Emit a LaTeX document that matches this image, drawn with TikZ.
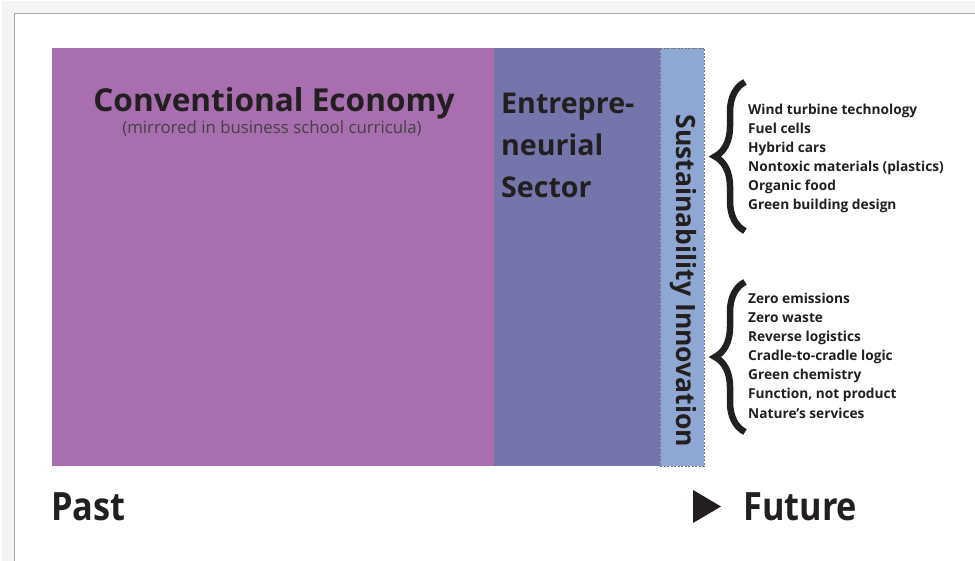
\documentclass[tikz,border=0pt]{standalone}
\usepackage{fontspec}
\setmainfont{Open Sans}
\usetikzlibrary{decorations.pathreplacing}
\definecolor{convc}{HTML}{A86EAF}
\definecolor{entc}{HTML}{7475AB}
\definecolor{susc}{HTML}{8FA7D3}
\definecolor{ink}{HTML}{231F20}
\tikzset{
  band/.style={anchor=north west, inner sep=0pt, outer sep=0pt},
  listitem/.style={anchor=base west, inner sep=0pt, text=ink, font=\fontsize{13.7}{13.7}\selectfont\bfseries},
  bigtext/.style={inner sep=0pt, text=ink, font=\fontsize{28.6}{28.6}\selectfont\bfseries},
  timetext/.style={anchor=base west, inner sep=0pt, text=ink, xscale=0.88, font=\fontsize{39}{39}\selectfont\bfseries},
  bracestyle/.style={decorate, decoration={brace, amplitude=30pt}, line width=6.5pt, ink},
}
\begin{document}
\begin{tikzpicture}[x=1pt,y=-1pt]
\useasboundingbox (0,0) rectangle (975,561);
% frame with soft shadow
\foreach \d in {1,...,12} {
  \draw[black, opacity=0.045, line width=1pt] (14-\d,600) -- (14-\d,14-\d) -- (1000,14-\d);
}
\draw[gray!70, line width=1pt] (14,600) |- (1000,14);
% bands
\node[band, fill=convc, minimum width=442pt, minimum height=418pt] (conv) at (52,48) {};
\node[band, fill=entc, minimum width=166pt, minimum height=418pt] (ent) at (494,48) {};
\node[band, fill=susc, draw=gray!90!black, dashed, dash pattern=on 2pt off 1.5pt, line width=0.8pt, minimum width=44pt, minimum height=418pt] (sus) at (660,48) {};
% titles
\node[bigtext, anchor=base, font=\fontsize{31.6}{31.6}\selectfont\bfseries] (convt) at (274,112) {Conventional Economy};
\node[anchor=base, inner sep=0pt, text=ink!85, font=\fontsize{16.8}{16.8}\selectfont] (convs) at (272,134) {(mirrored in business school curricula)};
\node[bigtext, anchor=base west] (ent1) at (501,114) {Entrepre-};
\node[bigtext, anchor=base west] (ent2) at (501,156) {neurial};
\node[bigtext, anchor=base west] (ent3) at (501,198) {Sector};
\node[inner sep=0pt, text=ink, rotate=-90, font=\fontsize{26.5}{26.5}\selectfont\bfseries] (sust) at (683,281) {Sustainability Innovation};
% braces
\coordinate (b1s) at (745,231);
\coordinate (b1e) at (745,82);
\draw[bracestyle] (b1s) -- (b1e);
\coordinate (b2s) at (745,432);
\coordinate (b2e) at (745,282);
\draw[bracestyle] (b2s) -- (b2e);
% list 1
\node[listitem] (l1a) at (748,115) {Wind turbine technology};
\node[listitem] (l1b) at (748,134) {Fuel cells};
\node[listitem] (l1c) at (748,153) {Hybrid cars};
\node[listitem] (l1d) at (748,172) {Nontoxic materials (plastics)};
\node[listitem] (l1e) at (748,191) {Organic food};
\node[listitem] (l1f) at (748,210) {Green building design};
% list 2
\node[listitem] (l2a) at (748,304) {Zero emissions};
\node[listitem] (l2b) at (748,323) {Zero waste};
\node[listitem] (l2c) at (748,342) {Reverse logistics};
\node[listitem] (l2d) at (748,361) {Cradle-to-cradle logic};
\node[listitem] (l2e) at (748,380) {Green chemistry};
\node[listitem] (l2f) at (748,399) {Function, not product};
\node[listitem] (l2g) at (748,418) {Nature’s services};
% timeline
\node[timetext] (past) at (51,520) {Past};
\fill[ink] (693,490) -- (721,506.5) -- (693,523) -- cycle;
\node[timetext] (future) at (743,520) {Future};
\end{tikzpicture}
\end{document}
